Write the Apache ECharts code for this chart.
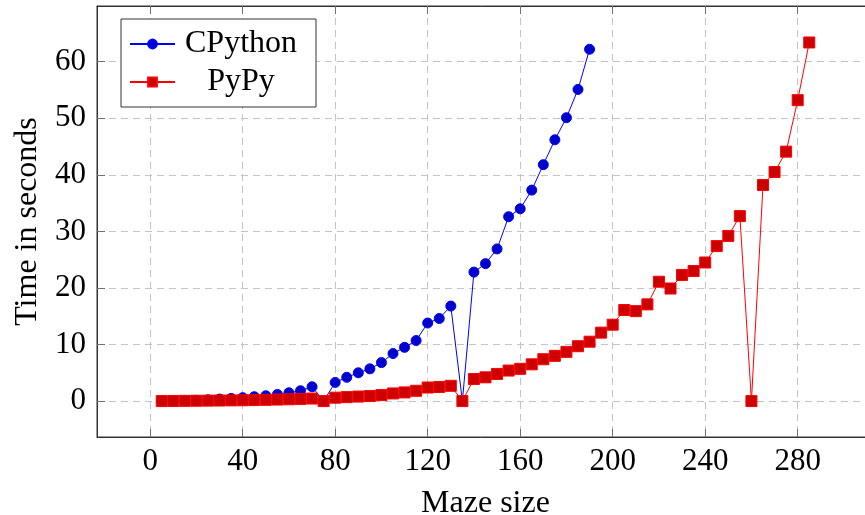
<!DOCTYPE html>
<html>
<head>
<meta charset="utf-8">
<script src="https://cdn.jsdelivr.net/npm/echarts@6/dist/echarts.min.js"></script>
<style>
html,body{margin:0;padding:0;background:#fff;}
#chart{width:865px;height:515px;}
</style>
</head>
<body>
<div id="chart"></div>
<script>
// ---- data ----
var cpythonSizes = [5,10,15,20,25,30,35,40,45,50,55,60,65,70,75,80,85,90,95,100,105,110,115,120,125,130,135,140,145,150,155,160,165,170,175,180,185,190];
var cpythonTimes = [0.02,0.04,0.08,0.14,0.24,0.35,0.47,0.6,0.77,0.94,1.17,1.47,1.82,2.53,0,3.3,4.2,5.0,5.7,6.8,8.4,9.5,10.7,13.8,14.6,16.8,0,22.8,24.3,26.9,32.6,34.0,37.3,41.8,46.2,50.1,55.1,62.2];
var pypySizes = [5,10,15,20,25,30,35,40,45,50,55,60,65,70,75,80,85,90,95,100,105,110,115,120,125,130,135,140,145,150,155,160,165,170,175,180,185,190,195,200,205,210,215,220,225,230,235,240,245,250,255,260,265,270,275,280,285];
var pypyTimes = [0,0.02,0.04,0.06,0.08,0.1,0.12,0.14,0.18,0.22,0.27,0.32,0.38,0.45,0,0.6,0.7,0.8,0.9,1.06,1.35,1.53,1.82,2.4,2.5,2.7,0,3.9,4.2,4.8,5.4,5.7,6.5,7.4,8.0,8.7,9.7,10.5,12.1,13.5,16.1,15.9,17.1,21.1,19.9,22.3,23.0,24.5,27.4,29.2,32.7,0,38.2,40.5,44.1,53.2,63.4];
var xTicks = [0,40,80,120,160,200,240,280];
var yTicks = [0,10,20,30,40,50,60];
var seriesNames = ['CPython','PyPy'];
var xTitle = 'Maze size';
var yTitle = 'Time in seconds';

function pairs(xs, ys){ return xs.map(function(x,i){ return [x, ys[i]]; }); }

var FONT = '"Liberation Serif", "DejaVu Serif", serif';
var chart = echarts.init(document.getElementById('chart'), null, {renderer:'canvas'});
var gridLine = {show:true, lineStyle:{color:'#c4c4c4', width:1, type:[7,5]}};
var tickStyle = {show:true, inside:true, length:8, lineStyle:{color:'#707070', width:1}};
var frameLine = {show:true, onZero:false, lineStyle:{color:'#333', width:1}};

chart.setOption({
  animation:false,
  backgroundColor:'#fff',
  grid:{left:97, top:6, right:-9, bottom:78, outerBoundsMode:'none', containLabel:false,
        show:true, borderColor:'#333', borderWidth:1, backgroundColor:'transparent'},
  legend:{
    left:121, top:19, orient:'vertical',
    backgroundColor:'#fff', borderColor:'#333', borderWidth:1,
    padding:[9,14,9,8], itemGap:6, itemWidth:45, itemHeight:11,
    data:seriesNames,
    formatter:function(n){ return '{c|' + n + '}'; },
    textStyle:{fontFamily:FONT, fontSize:32, color:'#000',
      rich:{c:{fontFamily:FONT, fontSize:32, color:'#000', width:122, align:'center', lineHeight:34}}}
  },
  xAxis:[{
    type:'value', min:-23, max:313, position:'bottom',
    axisLine:frameLine,
    axisTick:Object.assign({customValues:xTicks}, tickStyle),
    axisLabel:{customValues:xTicks, color:'#000', fontFamily:FONT, fontSize:31, margin:9},
    splitLine:gridLine,
    name:xTitle, nameLocation:'middle', nameGap:51,
    nameTextStyle:{fontFamily:FONT, fontSize:32, color:'#000'}
  },{
    type:'value', min:-23, max:313, position:'top',
    axisLine:frameLine,
    axisTick:Object.assign({customValues:xTicks}, tickStyle),
    axisLabel:{show:false},
    splitLine:{show:false}
  }],
  yAxis:[{
    type:'value', min:-6.35, max:69.85, position:'left',
    axisLine:frameLine,
    axisTick:Object.assign({customValues:yTicks}, tickStyle),
    axisLabel:{customValues:yTicks, color:'#000', fontFamily:FONT, fontSize:31, margin:11},
    splitLine:gridLine,
    name:yTitle, nameLocation:'middle', nameGap:53, nameRotate:90,
    nameTextStyle:{fontFamily:FONT, fontSize:32, color:'#000'}
  }],
  series:[{
    name:seriesNames[0], type:'line', data:pairs(cpythonSizes, cpythonTimes),
    symbol:'circle', symbolSize:10,
    lineStyle:{color:'#0000ff', width:1},
    itemStyle:{color:'#0000cc', borderColor:'#0000ff', borderWidth:1},
    emphasis:{disabled:true}
  },{
    name:seriesNames[1], type:'line', data:pairs(pypySizes, pypyTimes),
    symbol:'rect', symbolSize:11,
    lineStyle:{color:'#ff0000', width:1},
    itemStyle:{color:'#cc0000', borderColor:'#ff0000', borderWidth:1},
    emphasis:{disabled:true}
  }]
});
</script>
</body>
</html>
